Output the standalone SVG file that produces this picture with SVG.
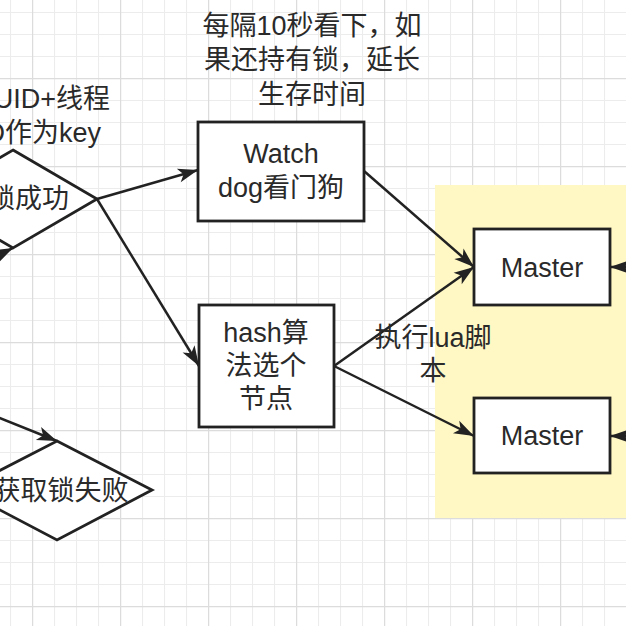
<svg xmlns="http://www.w3.org/2000/svg" width="626" height="626" viewBox="0 0 626 626">
  <defs>
    <pattern id="minor" patternUnits="userSpaceOnUse" x="10" y="12" width="22" height="22">
      <path d="M0 0.5 H22 M0.5 0 V22" stroke="#ececec" stroke-width="1.2" fill="none"/>
    </pattern>
    <pattern id="major" patternUnits="userSpaceOnUse" x="32" y="78" width="88" height="88">
      <path d="M0 0.5 H88 M0.5 0 V88" stroke="#dcdcdc" stroke-width="1.4" fill="none"/>
    </pattern>
    <marker id="arrow" markerUnits="userSpaceOnUse" markerWidth="22" markerHeight="16" refX="20" refY="8" orient="auto" overflow="visible">
      <path d="M0,1 L20,8 L0,15 L5,8 Z" fill="#222"/>
    </marker>
    <style>
      .shape { fill: #fff; stroke: #222; stroke-width: 2.8; }
      .edge { fill: none; stroke: #222; stroke-width: 2.5; marker-end: url(#arrow); }
      text { font-family: "Liberation Sans", "Noto Sans CJK SC", sans-serif; font-size: 27px; fill: #2a2a2a; text-anchor: middle; }
    </style>
  </defs>

  <rect width="626" height="626" fill="#fff"/>
  <rect width="626" height="626" fill="url(#minor)"/>
  <rect width="626" height="626" fill="url(#major)"/>

  <rect id="group-area" x="435" y="185" width="200" height="333" fill="#fff8c4"/>

  <g id="connectors">
    <line class="edge" x1="97" y1="199" x2="198" y2="170"/>
    <line class="edge" x1="97" y1="199" x2="199" y2="366"/>
    <line class="edge" x1="364" y1="171" x2="474" y2="267"/>
    <line class="edge" x1="334" y1="366" x2="474" y2="267"/>
    <line class="edge" x1="334" y1="366" x2="474" y2="436"/>
    <line class="edge" x1="-40" y1="274" x2="13" y2="248"/>
    <line class="edge" x1="-40" y1="402" x2="57" y2="441"/>
    <line class="edge" x1="650" y1="267" x2="610" y2="267"/>
    <line class="edge" x1="650" y1="436" x2="610" y2="436"/>
  </g>

  <g id="label-key">
    <text x="110" y="108" style="text-anchor:end">UUID+线程</text>
    <text x="101" y="142" style="text-anchor:end">ID作为key</text>
  </g>

  <g id="label-watch">
    <text x="312" y="35">每隔10秒看下，如</text>
    <text x="312" y="69">果还持有锁，延长</text>
    <text x="312" y="104">生存时间</text>
  </g>

  <g id="node-success">
    <polygon class="shape" points="13,150 97,199 13,248 -71,199"/>
    <text x="15" y="208">加锁成功</text>
  </g>

  <g id="node-fail">
    <polygon class="shape" points="57,441 152,490 57,540 -38,490"/>
    <text x="61" y="500">获取锁失败</text>
  </g>

  <g id="node-watchdog">
    <rect class="shape" x="198" y="122" width="166" height="99"/>
    <text x="281" y="163">Watch</text>
    <text x="281" y="197">dog看门狗</text>
  </g>

  <g id="node-hash">
    <rect class="shape" x="199" y="305" width="135" height="122"/>
    <text x="266" y="342">hash算</text>
    <text x="266" y="375">法选个</text>
    <text x="266" y="408">节点</text>
  </g>

  <g id="label-lua">
    <text x="433" y="347">执行lua脚</text>
    <text x="433" y="380">本</text>
  </g>

  <g id="node-master1">
    <rect class="shape" x="474" y="229" width="136" height="76"/>
    <text x="542" y="277">Master</text>
  </g>

  <g id="node-master2">
    <rect class="shape" x="474" y="398" width="136" height="75"/>
    <text x="542" y="445">Master</text>
  </g>
</svg>
